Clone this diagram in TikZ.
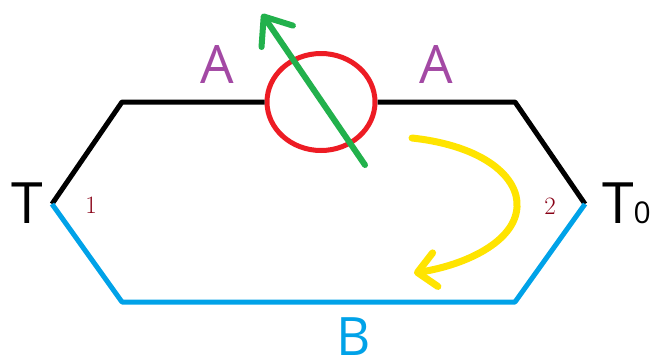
\documentclass[tikz,border=0pt]{standalone}
\usepackage{fontspec}
\setsansfont{Open Sans}
\usetikzlibrary{shapes.geometric,arrows.meta}
\definecolor{pblue}{RGB}{0,162,232}
\definecolor{pred}{RGB}{237,28,36}
\definecolor{pgreen}{RGB}{34,177,76}
\definecolor{pyellow}{RGB}{255,228,0}
\definecolor{ppurple}{RGB}{163,73,164}
\definecolor{pdarkred}{RGB}{136,0,21}
\begin{document}
\begin{tikzpicture}[x=1pt,y=-1pt,
  wire/.style={line width=5pt},
  bigtxt/.style={font=\sffamily\fontsize{57}{60}\selectfont, inner sep=0pt, anchor=base},
  atxt/.style={font=\sffamily\fontsize{53}{56}\selectfont, inner sep=0pt, anchor=base, text=ppurple},
  numtxt/.style={font=\fontsize{25}{28}\selectfont, inner sep=0pt, anchor=base, text=pdarkred}]
\useasboundingbox (0,0) rectangle (652,362);
\coordinate (v1) at (52,204);
\coordinate (v2) at (122,102);
\coordinate (v3) at (515,102);
\coordinate (v4) at (585,204);
\coordinate (v5) at (515,302);
\coordinate (v6) at (122,302);
\node[ellipse, draw=pred, line width=5pt, minimum width=108pt, minimum height=97pt, inner sep=0pt] (ring) at (321,102) {};
\draw[wire, line join=round] (v1) -- (v2) -- (ring.west);
\draw[wire, line join=round] (ring.east) -- (v3) -- (v4);
\draw[wire, pblue, line join=round] (v1) -- (v6) -- (v5) -- (v4);
% green arrow
\coordinate (g0) at (365,165);
\coordinate (g1) at (262,14);
\draw[pgreen, line width=6pt, line cap=round, -{Straight Barb[length=24pt,width=38pt,round]}] (g0) -- (g1);
% yellow arrow
\coordinate (y0) at (412,138);
\coordinate (ym) at (517,207);
\coordinate (y1) at (414,273);
\draw[pyellow, line width=7pt, line cap=round, -{Straight Barb[length=18pt,width=34pt,round]}] (y0) .. controls (485,146) and (519,178) .. (ym) .. controls (515,242) and (465,265) .. (y1);
% labels
\node[bigtxt] (tl) at (27,223) {T};
\node[bigtxt, anchor=base west] (tr) at (602,223) {T{\fontsize{30}{32}\selectfont 0}};
\node[atxt] (a1) at (217,83) {A};
\node[atxt] (a2) at (436,83) {A};
\node[atxt, text=pblue] (b) at (354,355) {B};
\node[numtxt] (n1) at (91,213) {1};
\node[numtxt] (n2) at (550,214) {2};
\end{tikzpicture}
\end{document}
